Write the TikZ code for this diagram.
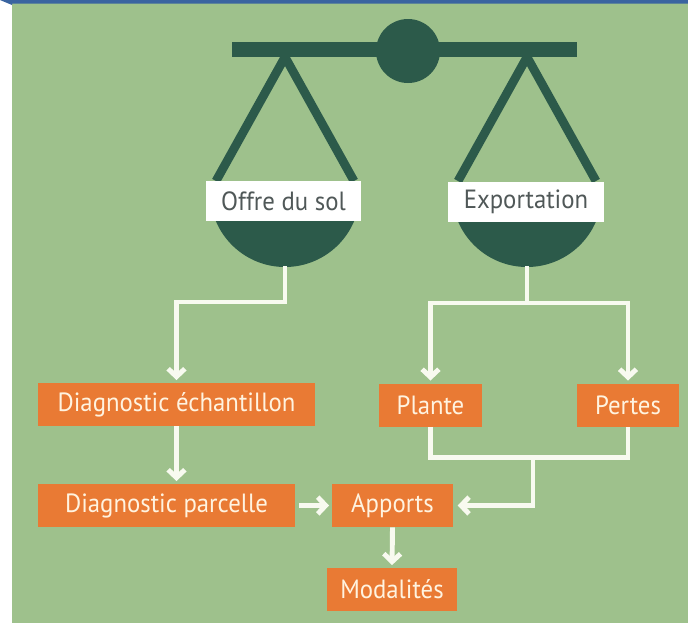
\documentclass[tikz,border=0pt]{standalone}
\usepackage{fontspec}
\setmainfont{PT Sans}[FakeStretch=0.94]
\usetikzlibrary{arrows.meta}
\definecolor{fond}{RGB}{158,193,140}
\definecolor{vertfonce}{RGB}{44,90,74}
\definecolor{orangebox}{RGB}{233,122,52}
\definecolor{creme}{RGB}{255,243,224}
\definecolor{cadre}{RGB}{58,100,160}
\definecolor{texteplateau}{RGB}{80,88,88}
\definecolor{fleche}{RGB}{248,250,240}

\begin{document}
\begin{tikzpicture}[x=0.02cm,y=-0.02cm,
    etape/.style={fill=orangebox,text=creme,minimum height=0.86cm,inner sep=0pt,
      font=\fontsize{15}{18}\selectfont},
    plateau/.style={fill=white,text=texteplateau,minimum height=0.8cm,inner sep=0pt,
      font=\fontsize{15}{18}\selectfont},
    lien/.style={draw=fleche,line width=2.8pt},
    fleche/.style={lien,-{Straight Barb[length=4.5pt,width=9.5pt]},shorten >=1.5pt}]
    \useasboundingbox (0,0) rectangle (688,623);
    % fond et cadre
    \fill[white] (0,0) rectangle (688,623);
    \fill[fond] (12,3) rectangle (688,623);
    \fill[cadre] (0,0) -- (688,0) -- (688,3.5) -- (12,3.5) -- (12,5) -- cycle;
    % la balance
    \fill[vertfonce] (232,42) rectangle (577,57);
    \fill[vertfonce] (408,51) circle (32);
    \draw[vertfonce,line width=5pt] (216,181) -- (285,57) -- (354,181);
    \draw[vertfonce,line width=5pt] (458,181) -- (527,57) -- (596,181);
    \fill[vertfonce] (210,192) arc (180:0:75) -- cycle;
    \fill[vertfonce] (452,192) arc (180:0:75) -- cycle;
    \coordinate (panL) at (285,266);
    \coordinate (panR) at (527,266);
    \node[plateau,minimum width=3.1cm] (sol) at (283.5,201) {Offre du sol};
    \node[plateau,minimum width=3.12cm] (export) at (526,201.5) {Exportation};
    % les etapes
    \node[etape,minimum width=5.54cm] (echant) at (176.5,404.5) {Diagnostic échantillon};
    \node[etape,minimum width=5.14cm] (parcelle) at (166.5,505.5) {Diagnostic parcelle};
    \node[etape,minimum width=2.42cm] (apports) at (392.5,505.5) {Apports};
    \node[etape,minimum width=2.6cm] (modal) at (392,589.5) {Modalités};
    \node[etape,minimum width=2.06cm] (plante) at (430.5,405) {Plante};
    \node[etape,minimum width=2.04cm] (pertes) at (628,405) {Pertes};
    % les liens
    \draw[fleche] (panL) -- ++(0,36) -| (echant.north);
    \draw[fleche] (echant.south) -- (echant.south |- parcelle.north);
    \draw[fleche,shorten <=2pt] (parcelle.east) -- (apports.west);
    \draw[fleche] (apports.south) -- (modal.north);
    \draw[lien] (panR) -- ++(0,37) coordinate (split);
    \draw[fleche] (split) -| (plante.north);
    \draw[fleche] (split) -| (pertes.north);
    \draw[lien] (plante.south) -- ++(0,31) -| (pertes.south);
    \coordinate (merge) at (533,458);
    \draw[fleche,shorten >=2.5pt] (merge) |- (apports.east);
  \end{tikzpicture}
\end{document}
